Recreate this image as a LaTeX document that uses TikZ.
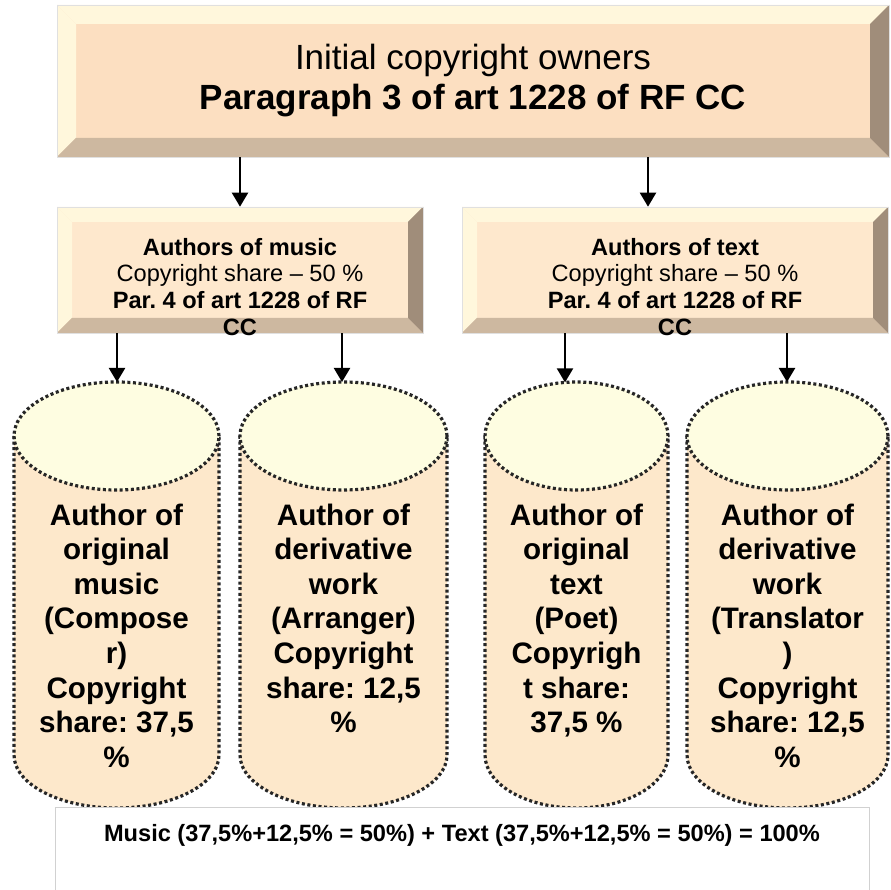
\documentclass[tikz,border=0pt]{standalone}
\usepackage{fontspec}
\setmainfont{Liberation Sans}
\usetikzlibrary{arrows.meta,calc}
\definecolor{topface}{HTML}{FCDFC1}
\definecolor{midface}{HTML}{FEE8CD}
\definecolor{bevlight}{HTML}{FFF7DC}
\definecolor{bevbot}{HTML}{CDB8A0}
\definecolor{bevright}{HTML}{A08D7A}
\definecolor{cylbody}{HTML}{FDE8CB}
\definecolor{cyltop}{HTML}{FEFDE1}
\frenchspacing
\newcommand\mycyl[2]{%
  \pgfmathsetmacro\cxm{(#1+#2)/2}%
  \pgfmathsetmacro\rxm{(#2-#1)/2}%
  \fill[cylbody] (#1,454) -- (#1,135) arc[start angle=180,end angle=360,x radius=\rxm pt,y radius=53pt] -- (#2,454) -- cycle;
  \draw[dotline] (#1,454) -- (#1,135) arc[start angle=180,end angle=360,x radius=\rxm pt,y radius=53pt] -- (#2,454);
  \path[fill=cyltop,dotline] (\cxm,454) ellipse[x radius=\rxm pt,y radius=54pt];
}
\tikzset{
  bevelbox/.style n args={2}{fill=#1, draw=black!12, line width=0.6pt, inner sep=0pt,
    path picture={
      \coordinate (BL) at (path picture bounding box.south west);
      \coordinate (TR) at (path picture bounding box.north east);
      \coordinate (TL) at (path picture bounding box.north west);
      \coordinate (BR) at (path picture bounding box.south east);
      \fill[bevlight] (TL) -- (TR) -- ([shift={(-#2pt,-#2pt)}]TR) -- ([shift={(#2pt,-#2pt)}]TL) -- cycle;
      \fill[bevlight] (TL) -- (BL) -- ([shift={(#2pt,#2pt)}]BL) -- ([shift={(#2pt,-#2pt)}]TL) -- cycle;
      \fill[bevbot] (BL) -- (BR) -- ([shift={(-#2pt,#2pt)}]BR) -- ([shift={(#2pt,#2pt)}]BL) -- cycle;
      \fill[bevright] (BR) -- (TR) -- ([shift={(-#2pt,-#2pt)}]TR) -- ([shift={(-#2pt,#2pt)}]BR) -- cycle;
    }},
  arr/.style={line width=2.2pt, -{Triangle[width=16pt,length=14pt]}},
  dotline/.style={line width=3.2pt, dash pattern=on 3pt off 2.6pt, draw=black!85},
  cyltext/.style={anchor=north, align=center, inner sep=0pt, font=\fontsize{29.6pt}{34.6pt}\selectfont\bfseries},
  midtext/.style={anchor=north, align=center, inner sep=0pt, font=\fontsize{23.6pt}{26.7pt}\selectfont},
}
\begin{document}
\begin{tikzpicture}[x=1pt,y=1pt]
\useasboundingbox (0,0) rectangle (890,890);
\fill[white] (0,0) rectangle (890,890);

% top box
\node[bevelbox={topface}{19}, minimum width=832pt, minimum height=152pt, align=center,
      font=\fontsize{35pt}{40pt}\selectfont] (top) at (473,809)
  {Initial copyright owners\\\textbf{Paragraph 3 of art 1228 of RF CC}};

% middle boxes
\node[bevelbox={midface}{15}, minimum width=366pt, minimum height=126pt] (m1) at (240,620) {};
\node[bevelbox={midface}{15}, minimum width=426pt, minimum height=126pt] (m2) at (675,620) {};
\node[midtext] (m1t) at (240,652.2) {\textbf{Authors of music}\\Copyright share -- 50 \%\\\textbf{Par. 4 of art 1228 of RF}\\\textbf{CC}};
\node[midtext] (m2t) at (675,652.2) {\textbf{Authors of text}\\Copyright share -- 50 \%\\\textbf{Par. 4 of art 1228 of RF}\\\textbf{CC}};

\coordinate (a1) at (240,0);
\coordinate (a2) at (648,0);
\draw[arr] (top.south -| a1) -- (m1.north -| a1);
\draw[arr] (top.south -| a2) -- (m2.north -| a2);

% cylinders
\mycyl{14}{219}
\mycyl{240}{447}
\mycyl{485}{668}
\mycyl{687}{888}

\coordinate (t1) at (117,508);
\coordinate (t2) at (342,508);
\coordinate (t3) at (565,507.6);
\coordinate (t4) at (787,508);
\draw[arr] (m1.south -| t1) -- (t1);
\draw[arr] (m1.south -| t2) -- (t2);
\draw[arr] (m2.south -| t3) -- (t3);
\draw[arr] (m2.south -| t4) -- (t4);

\node[cyltext] (c1) at (116.5,386.6) {Author of\\original\\music\\(Compose\\r)\\Copyright\\share: 37,5\\\%};
\node[cyltext] (c2) at (343.5,386.6) {Author of\\derivative\\work\\(Arranger)\\Copyright\\share: 12,5\\\%};
\node[cyltext] (c3) at (576.5,386.6) {Author of\\original\\text\\(Poet)\\Copyrigh\\t share:\\37,5 \%};
\node[cyltext] (c4) at (787.5,386.6) {Author of\\derivative\\work\\(Translator\\)\\Copyright\\share: 12,5\\\%};

% bottom box
\node[draw=black!18, line width=0.8pt, fill=white, minimum width=814pt, minimum height=120pt, anchor=north, inner sep=0pt] (bot) at (462,83) {};
\node[anchor=base, inner sep=0pt, font=\fontsize{23.6pt}{26.7pt}\selectfont\bfseries] (bt) at (462,48)
  {Music (37,5\%+12,5\% = 50\%) + Text (37,5\%+12,5\% = 50\%) = 100\%};
\end{tikzpicture}
\end{document}
